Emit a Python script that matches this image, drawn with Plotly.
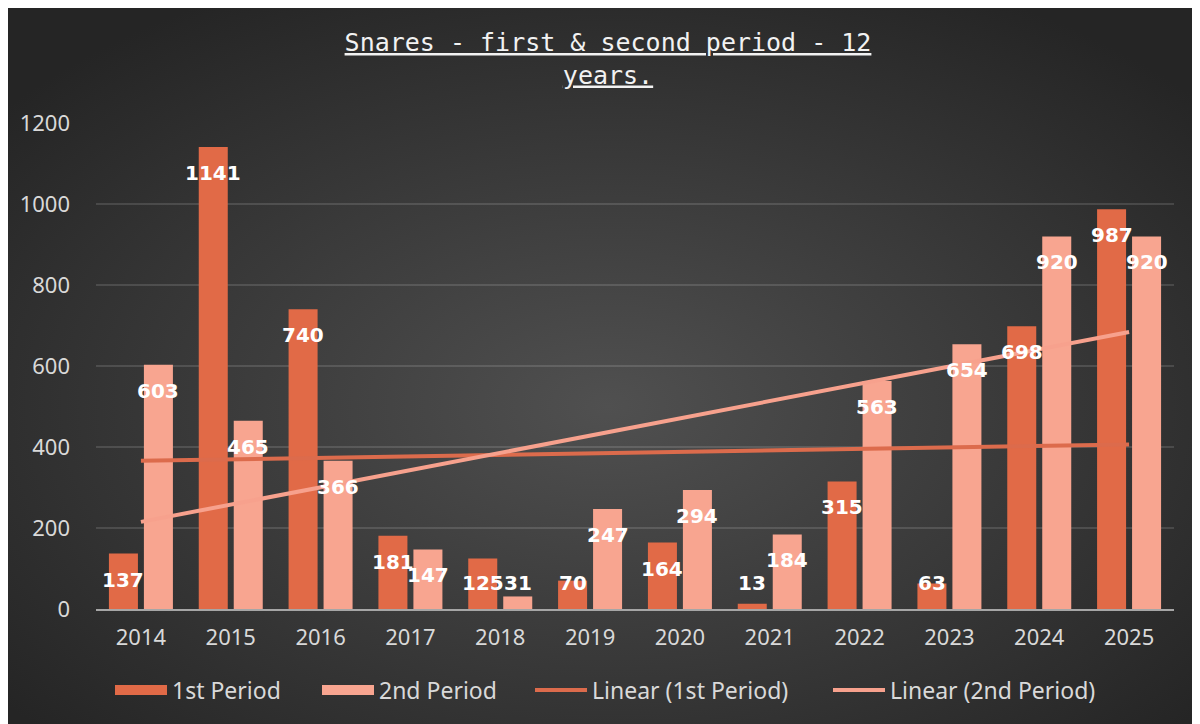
import base64
import numpy as np
import plotly.graph_objects as go

# ---------------- data ----------------
years = ["2014", "2015", "2016", "2017", "2018", "2019", "2020", "2021", "2022", "2023", "2024", "2025"]
first_period = [137, 1141, 740, 181, 125, 70, 164, 13, 315, 63, 698, 987]
second_period = [603, 465, 366, 147, 31, 247, 294, 184, 563, 654, 920, 920]
y_ticks = [0, 200, 400, 600, 800, 1000, 1200]
title_text = "Snares - first & second period - 12 years."

# ---------------- style ----------------
C1 = "#E16A47"
C2 = "#F8A590"
T1 = "#DC6B4C"
T2 = "#F7A18D"
TICK_FONT = dict(family="Noto Sans, Open Sans, sans-serif", size=22, color="#D9D9D9")
LEGEND_FONT = dict(family="Noto Sans, Open Sans, sans-serif", size=23, color="#D9D9D9")
LABEL_FONT = dict(family="DejaVu Sans", size=20, color="#FFFFFF")

W, H = 1200, 724
ML, MR, MT, MB = 88, 34, 115, 123
PW, PH = W - ML - MR, H - MT - MB
LEGEND_X = [102, 309, 522, 820]   # left edge of each legend entry (px)
LEGEND_Y = 682

# linear trendlines (least squares, as Excel does)
xi = np.arange(len(years))
fit1 = np.polyval(np.polyfit(xi, first_period, 1), xi)
fit2 = np.polyval(np.polyfit(xi, second_period, 1), xi)

fig = go.Figure()
fig.add_trace(go.Bar(x=years, y=first_period, name="1st Period", showlegend=False,
                     marker=dict(color=C1, line=dict(width=0))))
fig.add_trace(go.Bar(x=years, y=second_period, name="2nd Period", showlegend=False,
                     marker=dict(color=C2, line=dict(width=0))))
# legend entries for the bars drawn as wide swatches
fig.add_trace(go.Scatter(x=[None], y=[None], mode="lines", name="1st Period",
                         legend="legend", line=dict(color=C1, width=14)))
fig.add_trace(go.Scatter(x=[None], y=[None], mode="lines", name="2nd Period",
                         legend="legend2", line=dict(color=C2, width=14)))
fig.add_trace(go.Scatter(x=years, y=fit1, mode="lines", name="Linear (1st Period)",
                         legend="legend3", line=dict(color=T1, width=4)))
fig.add_trace(go.Scatter(x=years, y=fit2, mode="lines", name="Linear (2nd Period)",
                         legend="legend4", line=dict(color=T2, width=4)))

# data labels, inside end of each bar (clamped near the axis for short bars)
px_per_unit = PH / (y_ticks[-1] - y_ticks[0])
label_drop = 26
min_val = 2 * label_drop / px_per_unit
annotations = []
for series, shift in ((first_period, -17.5), (second_period, 17.5)):
    for i, v in enumerate(series):
        annotations.append(dict(x=i, y=max(v, min_val), xref="x", yref="y",
                                text=f"<b>{v}</b>", showarrow=False,
                                xshift=shift, yshift=-label_drop,
                                xanchor="center", yanchor="middle",
                                font=LABEL_FONT))

# radial background gradient
svg = f'''<svg xmlns="http://www.w3.org/2000/svg" width="{W}" height="{H}">
<defs><radialGradient id="g" cx="50%" cy="55%" r="65%">
<stop offset="0%" stop-color="#505050"/><stop offset="100%" stop-color="#252525"/>
</radialGradient></defs><rect width="{W}" height="{H}" fill="url(#g)"/></svg>'''
bg = "data:image/svg+xml;base64," + base64.b64encode(svg.encode()).decode()

words = title_text.split(" ")
line1 = " ".join(words[:-1])
line2 = words[-1]


def legend_box(px):
    return dict(orientation="h", x=px / W, xanchor="left", xref="container",
                y=1 - LEGEND_Y / H, yanchor="middle", yref="container",
                font=LEGEND_FONT, bgcolor="rgba(0,0,0,0)", itemwidth=52)


fig.update_layout(
    width=W, height=H,
    margin=dict(l=ML, r=MR, t=MT, b=MB, autoexpand=False),
    paper_bgcolor="#333333",
    plot_bgcolor="rgba(0,0,0,0)",
    barmode="group", bargap=0.221, bargroupgap=0.171,
    title=dict(text=f"<u>{line1}</u><br><u>{line2}</u>",
               font=dict(family="DejaVu Sans Mono", size=25, color="#F2F2F2"),
               x=0.5, xanchor="center", xref="container",
               y=1 - 43 / H, yanchor="top", yref="container"),
    xaxis=dict(type="category", range=[-0.5, len(years) - 0.5], autorange=False,
               showgrid=False, showline=True, linecolor="#A6A6A6",
               linewidth=2, ticks="", tickfont=TICK_FONT, ticklabelstandoff=8,
               zeroline=False, fixedrange=True),
    yaxis=dict(range=[y_ticks[0], y_ticks[-1]], autorange=False, tickvals=y_ticks,
               showgrid=True, gridcolor="rgba(255,255,255,0.13)", gridwidth=2,
               zeroline=False, showline=False, ticks="", tickfont=TICK_FONT,
               ticklabelstandoff=25, fixedrange=True),
    legend=legend_box(LEGEND_X[0]),
    legend2=legend_box(LEGEND_X[1]),
    legend3=legend_box(LEGEND_X[2]),
    legend4=legend_box(LEGEND_X[3]),
    annotations=annotations,
    images=[dict(source=bg, xref="paper", yref="paper",
                 x=-ML / PW, y=1 + MT / PH, sizex=W / PW, sizey=H / PH,
                 sizing="stretch", xanchor="left", yanchor="top", layer="below")],
)

fig.write_html("out.html")
